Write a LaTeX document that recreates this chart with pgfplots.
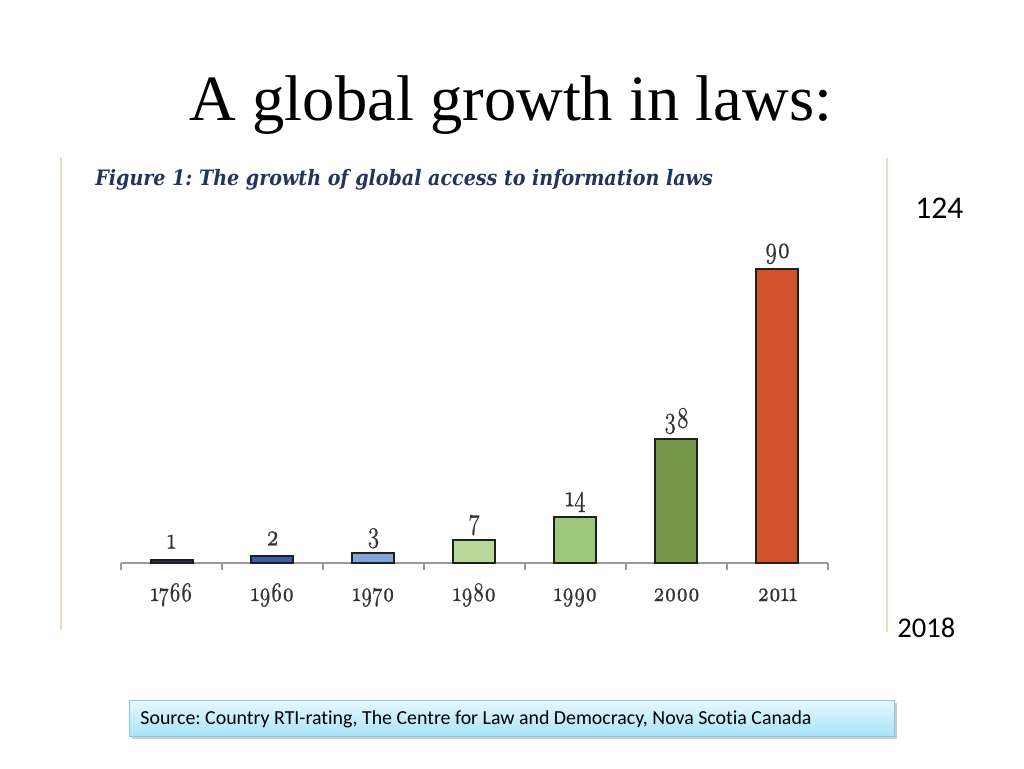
\documentclass[border=0pt]{standalone}
\usepackage{graphicx}
\usepackage{pgfplots}
\pgfplotsset{compat=1.18}
\usepackage{fontspec}
\setmainfont{Liberation Serif}
\newfontfamily\carlito[Ligatures=NoCommon]{Carlito}
\newfontfamily\figfont{DejaVu Serif Condensed}
\newfontfamily\osnfont[Numbers=OldStyle, FakeBold=0.7]{Latin Modern Roman}
\newcommand\osn[1]{\scalebox{1}[1.3]{\osnfont #1}}
\definecolor{navyb}{HTML}{2A2F4F}
\definecolor{blueb}{HTML}{3D5AA6}
\definecolor{lblueb}{HTML}{7FA7D9}
\definecolor{lgreenb}{HTML}{B9D89A}
\definecolor{mgreenb}{HTML}{9DC77A}
\definecolor{dgreenb}{HTML}{75984A}
\definecolor{orangeb}{HTML}{D2532B}
\definecolor{figblue}{HTML}{22345F}
\definecolor{beige}{HTML}{EEDDBE}
\definecolor{boxtop}{HTML}{E6F8FE}
\definecolor{boxbot}{HTML}{A9E3F7}
\definecolor{boxline}{HTML}{86CBE2}
\definecolor{digit}{HTML}{333333}
\begin{document}
\frenchspacing
\begin{tikzpicture}[x=0.5pt,y=0.5pt]
\path[use as bounding box, fill=white] (0,0) rectangle (1024,768);
\node[anchor=base, inner sep=0, font=\fontsize{32.3}{38}\selectfont] at (511,768-121) {A global growth in laws:};
\draw[beige, line width=1pt] (61,768-157) -- (61,768-630);
\draw[beige, line width=1pt] (887,768-158) -- (887,768-632);
\node[anchor=base west, inner sep=0, text=figblue, font=\figfont\fontsize{10.6}{13}\selectfont\bfseries\itshape] at (95,768-185) {Figure 1: The growth of global access to information laws};
\node[anchor=base west, inner sep=0, font=\carlito\fontsize{15.8}{18}\selectfont] at (915,768-218) {124};
\node[anchor=base west, inner sep=0, font=\carlito\fontsize{14.3}{17}\selectfont] at (897,768-637) {2018};
\fill[black, opacity=0.2] (132,768-739) rectangle (897,768-703);
\shade[top color=boxtop, bottom color=boxbot, draw=boxline, line width=0.5pt] (129,768-700) rectangle (894,768-736);
\node[anchor=base west, inner sep=0, font=\carlito\fontsize{9.94}{12}\selectfont] at (140,768-724) {Source: Country RTI-rating, The Centre for Law and Democracy, Nova Scotia Canada};
\begin{axis}[
  at={(60.5pt,102.5pt)}, anchor=south west,
  scale only axis, width=353.5pt, height=163.5pt,
  xmin=-0.5, xmax=6.5, ymin=0, ymax=100,
  axis y line=none, axis x line*=bottom,
  x axis line style={draw=gray!80, line width=0.6pt, -},
  ybar, bar width=21pt, bar shift=0pt,
  xtick={0,1,2,3,4,5,6},
  xticklabels={\osn{1766},\osn{1960},\osn{1970},\osn{1980},\osn{1990},\osn{2000},\osn{2011}},
  major tick length=0pt,
  extra x ticks={-0.5,0.5,1.5,2.5,3.5,4.5,5.5,6.5},
  extra x tick labels={},
  extra x tick style={major tick length=3.5pt, tick align=outside, tick style={draw=gray!80, line width=0.6pt}},
  xticklabel style={font=\fontsize{10.3}{12}\selectfont, text=digit, anchor=base, yshift=-19pt},
  nodes near coords={\osn{\pgfmathprintnumber[assume math mode=true]{\pgfplotspointmeta}}},
  every node near coord/.append style={font=\fontsize{11.5}{13}\selectfont, text=digit, anchor=base, yshift=5.5pt, inner sep=0pt},
  clip=false,
  every axis plot/.append style={draw=black!88, line width=1pt},
]
\addplot[fill=navyb] coordinates {(0,1)};
\addplot[fill=blueb] coordinates {(1,2)};
\addplot[fill=lblueb] coordinates {(2,3)};
\addplot[fill=lgreenb] coordinates {(3,7)};
\addplot[fill=mgreenb] coordinates {(4,14)};
\addplot[fill=dgreenb] coordinates {(5,38)};
\addplot[fill=orangeb] coordinates {(6,90)};
\end{axis}
\end{tikzpicture}
\end{document}
